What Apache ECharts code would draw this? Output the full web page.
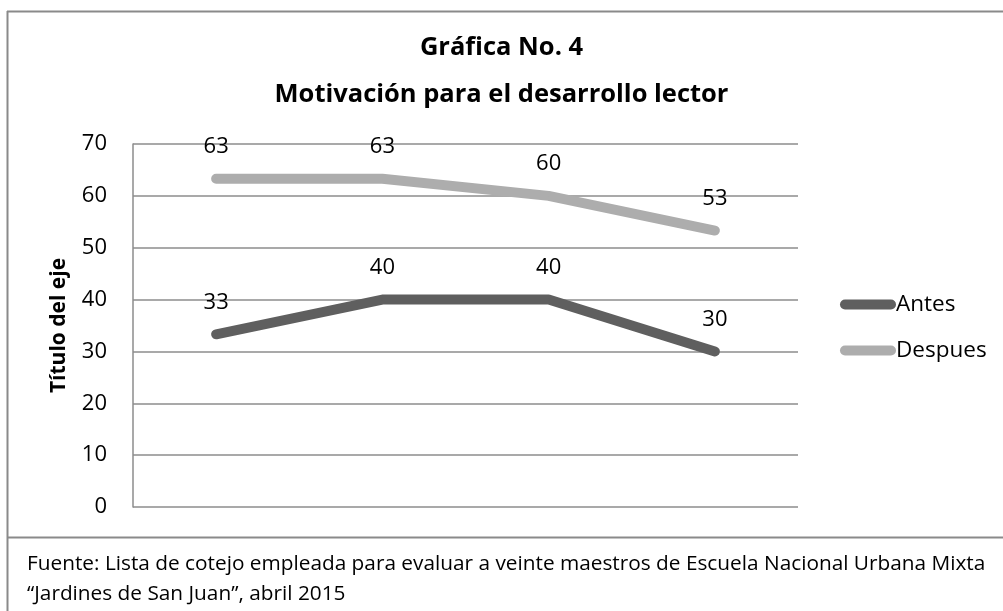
<!DOCTYPE html>
<html>
<head>
<meta charset="utf-8">
<script src="https://cdn.jsdelivr.net/npm/echarts@6/dist/echarts.min.js"></script>
<style>
  html, body { margin: 0; padding: 0; background: #fff; }
  #chart { width: 1003px; height: 611px; }
</style>
</head>
<body>
<div id="chart"></div>
<script>
const categories = ["1", "2", "3", "4"];
const antes = [33.3, 40, 40, 30];
const despues = [63.3, 63.3, 60, 53.3];
const yTicks = { min: 0, max: 70, interval: 10 };

const FONT = "'Open Sans', 'Noto Sans', sans-serif";
const GRID_COLOR = "#8c8c8c";

const chart = echarts.init(document.getElementById("chart"), undefined, { renderer: "canvas" });

function capsule() {
  return "path://M5,0 L51,0 A5,5 0 0 1 51,10 L5,10 A5,5 0 0 1 5,0 Z";
}

chart.setOption({
  animation: false,
  backgroundColor: "#fff",
  textStyle: { fontFamily: FONT },
  title: {
    text: "Gráfica No. 4\nMotivación para el desarrollo lector",
    left: "center",
    top: 19,
    textStyle: { fontFamily: FONT, fontSize: 25.5, fontWeight: "bold", color: "#000", lineHeight: 47 },
  },
  grid: { left: 133, right: 205, top: 144, bottom: 104 },
  legend: {
    orient: "vertical",
    left: 835,
    top: 288,
    itemWidth: 56,
    itemHeight: 10,
    itemGap: 23,
    textStyle: { fontFamily: FONT, fontSize: 22.5, color: "#000", padding: [0, 0, 0, -5] },
    data: [
      { name: "Antes", icon: capsule() },
      { name: "Despues", icon: capsule() },
    ],
  },
  xAxis: {
    type: "category",
    data: categories,
    boundaryGap: true,
    axisLine: { show: false },
    axisTick: { show: false },
    axisLabel: { show: false },
  },
  yAxis: {
    type: "value",
    min: yTicks.min,
    max: yTicks.max,
    interval: yTicks.interval,
    name: "Título del eje",
    nameLocation: "middle",
    nameRotate: 90,
    nameGap: 63,
    nameTextStyle: { fontFamily: FONT, fontSize: 21, fontWeight: "bold", color: "#000" },
    axisLine: { show: true, lineStyle: { color: GRID_COLOR, width: 1.5 } },
    axisTick: { show: false },
    axisLabel: { color: "#000", fontSize: 22, margin: 26, fontFamily: FONT },
    splitLine: { show: true, lineStyle: { color: GRID_COLOR, width: 1.5 } },
  },
  series: [
    {
      name: "Antes",
      type: "line",
      data: antes,
      color: "#5f5f5f",
      symbol: "circle",
      symbolSize: 2,
      lineStyle: { width: 10, color: "#5f5f5f", cap: "round", join: "round" },
      itemStyle: { color: "#5f5f5f" },
      label: {
        show: true, position: "top", distance: 20, fontSize: 22, color: "#000", fontFamily: FONT,
        formatter: (p) => Math.round(p.value),
      },
    },
    {
      name: "Despues",
      type: "line",
      data: despues,
      color: "#adadad",
      symbol: "circle",
      symbolSize: 2,
      lineStyle: { width: 10, color: "#adadad", cap: "round", join: "round" },
      itemStyle: { color: "#adadad" },
      label: {
        show: true, position: "top", distance: 20, fontSize: 22, color: "#000", fontFamily: FONT,
        formatter: (p) => Math.round(p.value),
      },
    },
  ],
  graphic: [
    { type: "line", shape: { x1: 7, y1: 11.5, x2: 1003, y2: 11.5 }, style: { stroke: "#8a8a8a", lineWidth: 2 } },
    { type: "line", shape: { x1: 7.5, y1: 11, x2: 7.5, y2: 611 }, style: { stroke: "#8a8a8a", lineWidth: 2 } },
    { type: "line", shape: { x1: 7, y1: 537.5, x2: 1003, y2: 537.5 }, style: { stroke: "#8a8a8a", lineWidth: 2 } },
    {
      type: "text", left: 27, top: 549,
      style: {
        text: "Fuente: Lista de cotejo empleada para evaluar a veinte maestros de Escuela Nacional Urbana Mixta\n“Jardines de San Juan”, abril 2015",
        fontFamily: FONT, fontSize: 20.8, lineHeight: 30, fill: "#000",
      },
    },
  ],
});
</script>
</body>
</html>
